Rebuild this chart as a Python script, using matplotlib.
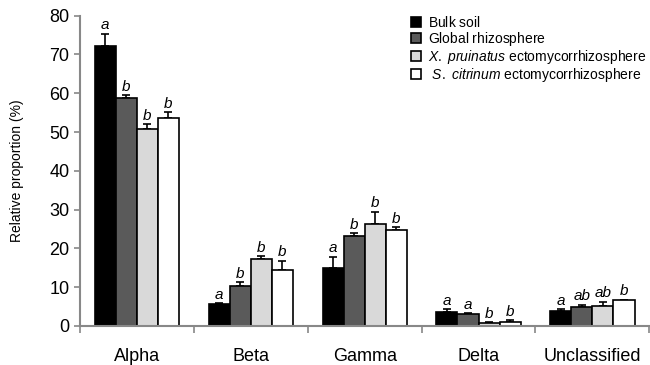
import numpy as np
import matplotlib
matplotlib.use("Agg")
import matplotlib.pyplot as plt

plt.rcParams['font.family'] = ['Liberation Sans', 'DejaVu Sans']
plt.rcParams['mathtext.fontset'] = 'custom'
plt.rcParams['mathtext.rm'] = 'Liberation Sans'
plt.rcParams['mathtext.it'] = 'Liberation Sans:italic'

categories = ['Alpha', 'Beta', 'Gamma', 'Delta', 'Unclassified']
series = [r'$\mathrm{Bulk\ soil}$', r'$\mathrm{Global\ rhizosphere}$',
          r'$\it{X.\ pruinatus}\mathrm{\ ectomycorrhizosphere}$',
          r'$\mathrm{\ }\it{S.\ citrinum}\mathrm{\ ectomycorrhizosphere}$']
colors = ['#000000', '#5a5a5a', '#d9d9d9', '#ffffff']

bulk = [72.3, 5.6, 15.0, 3.5, 3.9]
glob = [58.8, 10.2, 23.3, 3.0, 4.9]
xpru = [50.9, 17.2, 26.3, 0.8, 5.1]
scit = [53.6, 14.4, 24.8, 1.1, 6.6]

bulk_err = [3.1, 0.3, 2.9, 0.8, 0.4]
glob_err = [0.7, 1.1, 0.6, 0.3, 0.5]
xpru_err = [1.1, 0.8, 3.2, 0.1, 1.1]
scit_err = [1.5, 2.4, 0.7, 0.4, 0.2]

letters = [['a', 'b', 'b', 'b'],
           ['a', 'b', 'b', 'b'],
           ['a', 'b', 'b', 'b'],
           ['a', 'a', 'b', 'b'],
           ['a', 'ab', 'ab', 'b']]

values = [bulk, glob, xpru, scit]
errors = [bulk_err, glob_err, xpru_err, scit_err]

fig = plt.figure(figsize=(6.5, 3.65), dpi=100)
ax = fig.add_axes([0.123, 0.107, 0.876, 0.85])

x = np.arange(len(categories))
w = 0.185
for i in range(4):
    pos = x + (i - 1.5) * w
    ax.bar(pos, values[i], w, color=colors[i], edgecolor='black',
           linewidth=1.2, label=series[i], zorder=2)
    ax.errorbar(pos, values[i], yerr=[np.zeros(5), errors[i]], fmt='none',
                ecolor='black', elinewidth=1.2, capsize=3, capthick=1.2, zorder=1)
    for j in range(5):
        ax.text(pos[j], values[i][j] + errors[i][j] + 0.4, letters[j][i],
                ha='center', va='bottom', fontsize=11, style='italic')

ax.set_xlim(-0.5, 4.5)
ax.set_ylim(0, 80)
ax.set_yticks(range(0, 81, 10))
ax.tick_params(axis='y', labelsize=13, length=4, color='#888888', width=1.2)
ax.set_xticks(np.arange(-0.5, 4.6, 1))
ax.set_xticklabels([])
ax.set_xticks(x, minor=True)
ax.set_xticklabels(categories, minor=True, fontsize=13)
ax.tick_params(axis='x', which='major', length=5, color='#888888', width=1.2)
ax.tick_params(axis='x', which='minor', length=0, pad=16)
for s in ['top', 'right']:
    ax.spines[s].set_visible(False)
for s in ['left', 'bottom']:
    ax.spines[s].set_color('#888888')
    ax.spines[s].set_linewidth(1.5)

ax.set_ylabel('Relative proportion (%)', fontsize=10, labelpad=18)

ax.legend(loc='upper right', bbox_to_anchor=(1.005, 1.02), frameon=False,
          fontsize=10, handlelength=0.75, handleheight=0.75, handletextpad=0.5,
          labelspacing=0.0, borderaxespad=0)

fig.savefig('out.png', dpi=100)
